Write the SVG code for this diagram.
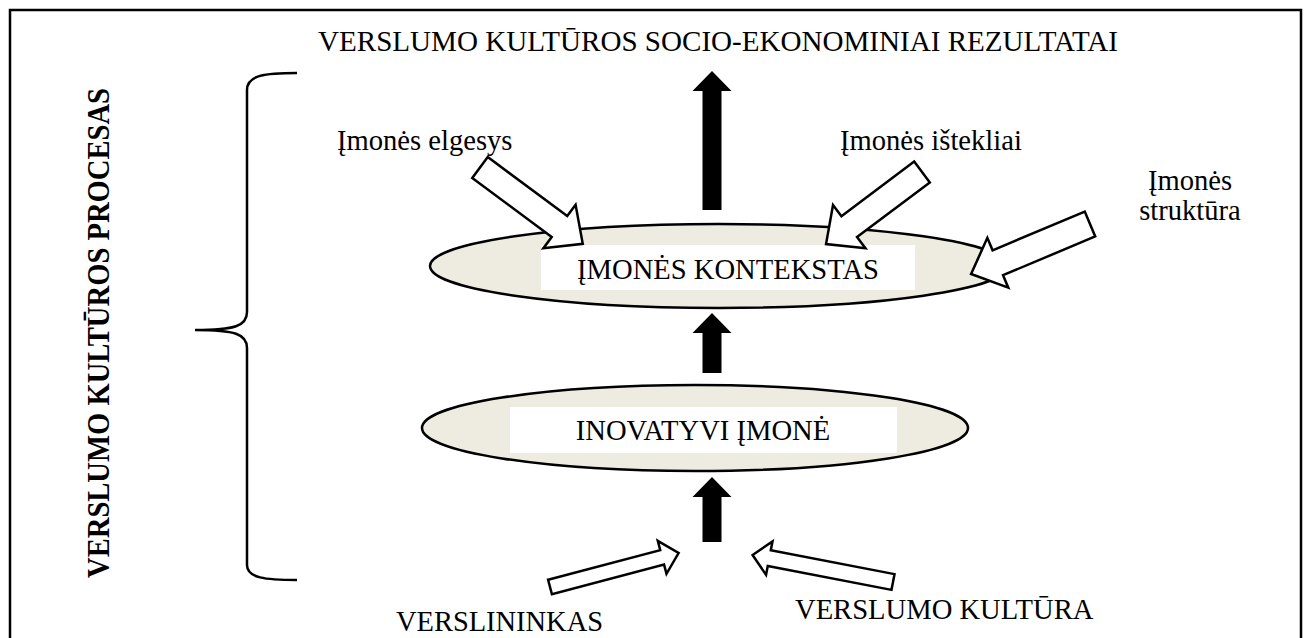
<svg xmlns="http://www.w3.org/2000/svg" width="1310" height="638" viewBox="0 0 1310 638">
  <style>
    .t { font-family: "Liberation Serif", "Times New Roman", serif; font-size: 28.6px; fill: #000; }
    .tb { font-family: "Liberation Serif", "Times New Roman", serif; font-size: 31px; font-weight: bold; fill: #000; }
    .ell { fill: #eeece1; stroke: #000; stroke-width: 2.5; }
    .lbl { fill: #fff; stroke: none; }
    .solid { fill: #000; stroke: none; }
    .hollow { fill: #fff; stroke: #000; stroke-width: 2.5; stroke-linejoin: miter; }
    .brace { fill: none; stroke: #000; stroke-width: 2.5; }
  </style>

  <!-- frame -->
  <rect x="10" y="10" width="1291" height="640" fill="#fff" stroke="#000" stroke-width="2.5"/>

  <!-- heading and side caption -->
  <text class="t" x="718" y="51" text-anchor="middle" textLength="800" lengthAdjust="spacingAndGlyphs">VERSLUMO KULTŪROS SOCIO-EKONOMINIAI REZULTATAI</text>
  <text class="tb" transform="translate(109,333) rotate(-90)" text-anchor="middle" textLength="490" lengthAdjust="spacingAndGlyphs">VERSLUMO KULTŪROS PROCESAS</text>

  <!-- curly brace -->
  <path class="brace" d="M297,73 C265,73 247,75 247,90 L247,312 C247,326 235,330 195,330 C235,330 247,334 247,348 L247,565 C247,578 265,580 297,580"/>

  <!-- nodes -->
  <g id="node-kontekstas">
    <ellipse class="ell" cx="719" cy="266" rx="289" ry="42"/>
    <rect class="lbl" x="541" y="245" width="374" height="45"/>
    <text class="t" x="728" y="279" text-anchor="middle">ĮMONĖS KONTEKSTAS</text>
  </g>

  <g id="node-inovatyvi">
    <ellipse class="ell" cx="695" cy="428" rx="273" ry="43"/>
    <rect class="lbl" x="510" y="407" width="387" height="46"/>
    <text class="t" x="703" y="440" text-anchor="middle">INOVATYVI ĮMONĖ</text>
  </g>

  <g id="node-elgesys">
    <text class="t" x="337" y="150">Įmonės elgesys</text>
  </g>
  <g id="node-istekliai">
    <text class="t" x="840" y="150">Įmonės ištekliai</text>
  </g>
  <g id="node-struktura">
    <text class="t" x="1190" y="190" text-anchor="middle">Įmonės</text>
    <text class="t" x="1190" y="220" text-anchor="middle">struktūra</text>
  </g>
  <g id="node-verslininkas">
    <text class="t" x="396" y="631" textLength="207" lengthAdjust="spacingAndGlyphs">VERSLININKAS</text>
  </g>
  <g id="node-kultura">
    <text class="t" x="795" y="619">VERSLUMO KULTŪRA</text>
  </g>

  <!-- connectors -->
  <g id="connectors">
    <!-- solid upward arrows -->
    <polygon class="solid" points="712,71 731.5,91 721.5,91 721.5,210 702.5,210 702.5,91 692.5,91"/>
    <polygon class="solid" points="712,313 731.5,333 721.5,333 721.5,373 702.5,373 702.5,333 692.5,333"/>
    <polygon class="solid" points="712,477 731.5,497 721.5,497 721.5,542 702.5,542 702.5,497 692.5,497"/>

    <!-- hollow block arrows (drawn along +x, then placed) -->
    <path class="hollow" transform="translate(480,167.5) rotate(36.6)" d="M0,-13 L99,-13 L99,-27 L128,0 L99,27 L99,13 L0,13 Z"/>
    <path class="hollow" transform="translate(922,172) rotate(143.1)" d="M0,-13 L91,-13 L91,-27 L120,0 L91,27 L91,13 L0,13 Z"/>
    <path class="hollow" transform="translate(1090,224) rotate(157.2)" d="M0,-13.5 L100,-13.5 L100,-27 L129,0 L100,27 L100,13.5 L0,13.5 Z"/>
    <path class="hollow" transform="translate(550,587) rotate(-14.8)" d="M0,-7.5 L116,-7.5 L116,-17 L133,0 L116,17 L116,7.5 L0,7.5 Z"/>
    <path class="hollow" transform="translate(893,582) rotate(190.9)" d="M0,-8 L126,-8 L126,-17 L143,0 L126,17 L126,8 L0,8 Z"/>
  </g>
</svg>
